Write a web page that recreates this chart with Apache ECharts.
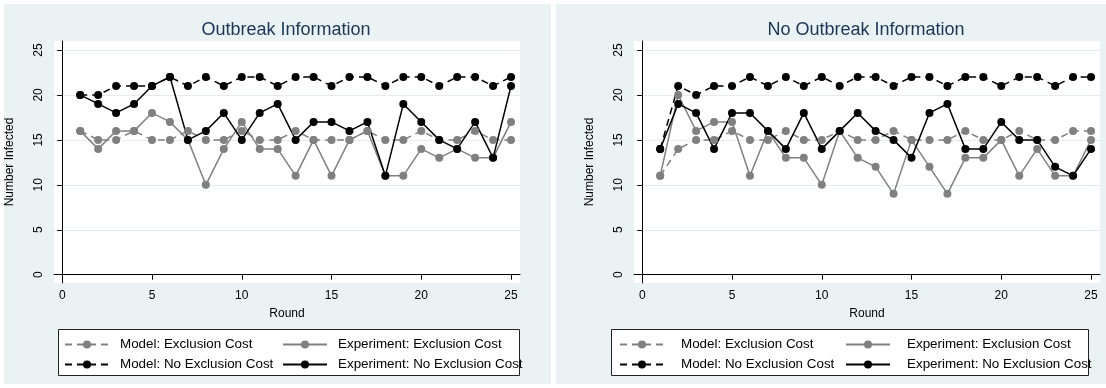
<!DOCTYPE html>
<html>
<head>
<meta charset="utf-8">
<script src="https://cdn.jsdelivr.net/npm/echarts@6/dist/echarts.min.js"></script>
<style>
  html, body { margin: 0; padding: 0; background: #fff; }
  #chart { width: 1106px; height: 388px; }
</style>
</head>
<body>
<div id="chart"></div>
<script>
// rounds 1..25
const rounds = [1,2,3,4,5,6,7,8,9,10,11,12,13,14,15,16,17,18,19,20,21,22,23,24,25];
const tickValues = [0,5,10,15,20,25];
const seriesNames = ['Model: Exclusion Cost', 'Experiment: Exclusion Cost',
                     'Model: No Exclusion Cost', 'Experiment: No Exclusion Cost'];
const panelTitles = ['Outbreak Information', 'No Outbreak Information'];

// Outbreak Information (left)
const outModelExcl   = [16,15,15,16,15,15,16,15,15,16,15,15,16,15,15,15,16,15,15,16,15,15,16,15,15];
const outExpExcl     = [16,14,16,16,18,17,15,10,14,17,14,14,11,15,11,15,16,11,11,14,13,14,13,13,17];
const outModelNoExcl = [20,20,21,21,21,22,21,22,21,22,22,21,22,22,21,22,22,21,22,22,21,22,22,21,22];
const outExpNoExcl   = [20,19,18,19,21,22,15,16,18,15,18,19,15,17,17,16,17,11,19,17,15,14,17,13,21];

// No Outbreak Information (right)
const noModelExcl    = [11,14,15,15,16,15,15,16,15,15,16,15,15,16,15,15,15,16,15,15,16,15,15,16,16];
const noExpExcl      = [11,20,16,17,17,11,16,13,13,10,16,13,12,9,15,12,9,13,13,15,11,14,11,11,15];
const noModelNoExcl  = [14,21,20,21,21,22,21,22,21,22,21,22,22,21,22,22,21,22,22,21,22,22,21,22,22];
const noExpNoExcl    = [14,19,18,14,18,18,16,14,18,14,16,18,16,15,13,18,19,14,14,17,15,15,12,11,14];

const FONT = 'Liberation Sans, Arial, sans-serif';
const GRAY = '#808080';
const BLACK = '#000000';

(function() {
    const chartDom = document.getElementById('chart');
    const myChart = echarts.init(chartDom, null, { renderer: 'canvas' });

    // 两个面板的位置
    const panels = [
        { dx: 0,   bgX: 4,   bgW: 547, title: panelTitles[0],
          box: { x: 58.5, w: 461 }, keys: [64, 282], textPad: 6,
          data: [outModelExcl, outExpExcl, outModelNoExcl, outExpNoExcl] },
        { dx: 580, bgX: 556, bgW: 550, title: panelTitles[1],
          box: { x: 611.5, w: 477 }, keys: [619, 845], textPad: 12,
          data: [noModelExcl, noExpExcl, noModelNoExcl, noExpNoExcl] }
    ];
    const styles = [
        { color: GRAY,  dashed: true },
        { color: GRAY,  dashed: false },
        { color: BLACK, dashed: true },
        { color: BLACK, dashed: false }
    ];

    const grids = [], xAxes = [], yAxes = [], series = [], titles = [], legends = [], graphics = [];

    panels.forEach((p, pi) => {
        graphics.push({ type: 'rect', z: -10, silent: true,
            shape: { x: p.bgX, y: 4, width: p.bgW, height: 380 },
            style: { fill: '#eaf2f3' } });
        // 图例外框
        graphics.push({ type: 'rect', z: 1, silent: true,
            shape: { x: p.box.x, y: 329.5, width: p.box.w, height: 46 },
            style: { fill: '#ffffff', stroke: '#222', lineWidth: 1 } });

        grids.push({ left: 54 + p.dx, top: 41, width: 466, height: 242,
            show: true, backgroundColor: '#ffffff', borderWidth: 0 });

        titles.push({ text: p.title, left: 286 + p.dx, top: 21, padding: 0, textAlign: 'center',
            textStyle: { fontFamily: FONT, fontSize: 18, fontWeight: 'normal', color: '#1c3558' } });

        xAxes.push({
            type: 'value', gridIndex: pi, min: -0.46, max: 25.5,
            name: 'Round', nameLocation: 'middle', nameGap: 25,
            nameTextStyle: { fontFamily: FONT, fontSize: 12, color: '#000' },
            axisLine: { lineStyle: { color: '#000', width: 1 } },
            axisTick: { customValues: tickValues, length: 5, lineStyle: { color: '#000' } },
            axisLabel: { customValues: tickValues, margin: 7, fontFamily: FONT, fontSize: 12, color: '#000' },
            splitLine: { show: false }
        });
        yAxes.push({
            type: 'value', gridIndex: pi, min: -0.92, max: 26,
            name: 'Number Infected', nameLocation: 'middle', nameGap: 38,
            nameTextStyle: { fontFamily: FONT, fontSize: 12, color: '#000' },
            axisLine: { show: true, lineStyle: { color: '#000', width: 1 } },
            axisTick: { show: true, customValues: tickValues, length: 5, lineStyle: { color: '#000' } },
            axisLabel: { customValues: tickValues, rotate: 90, margin: 9, fontFamily: FONT, fontSize: 12, color: '#000' },
            splitLine: { show: true, lineStyle: { color: '#e3ecee', width: 1 } }
        });

        p.data.forEach((vals, si) => {
            const st = styles[si];
            series.push({
                name: seriesNames[si], type: 'line',
                xAxisIndex: pi, yAxisIndex: pi,
                symbol: 'circle', symbolSize: 8,
                lineStyle: { color: st.color, width: 1.5, type: st.dashed ? [7, 5] : 'solid' },
                itemStyle: { color: st.color },
                data: rounds.map((r, i) => [r, vals[i]]),
                emphasis: { disabled: true },
                animation: false
            });
        });

        // 图例：两列两行
        seriesNames.forEach((name, si) => {
            legends.push({
                data: [name], left: p.keys[si % 2], top: si < 2 ? 338 : 358, padding: 0,
                itemWidth: 44, itemHeight: 10, selectedMode: false,
                textStyle: { fontFamily: FONT, fontSize: 13.4, color: '#000', padding: [0, 0, 0, p.textPad] }
            });
        });
    });

    const option = {
        backgroundColor: '#ffffff',
        animation: false,
        title: titles,
        grid: grids,
        xAxis: xAxes,
        yAxis: yAxes,
        legend: legends,
        graphic: graphics,
        series: series
    };

    myChart.setOption(option);
    window.addEventListener('resize', () => myChart.resize());
})();
</script>
</body>
</html>
